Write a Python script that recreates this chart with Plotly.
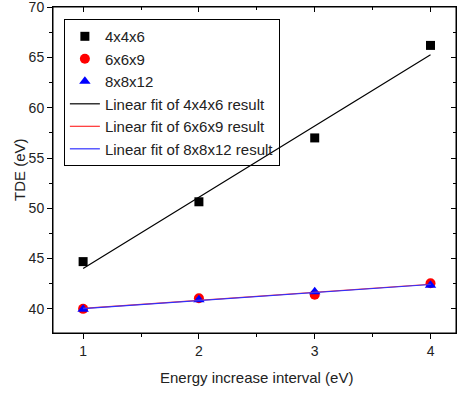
import numpy as np
import plotly.graph_objects as go

x = [1, 2, 3, 4]
tde_446 = [44.7, 50.65, 57.0, 66.2]
tde_669 = [40.0, 41.05, 41.4, 42.55]
tde_8812 = [39.95, 40.9, 41.7, 42.35]

names = ["4x4x6", "6x6x9", "8x8x12"]
colors = ["black", "red", "blue"]
symbols = ["square", "circle", "triangle-up"]
sizes = [9, 10, 10]
series = [tde_446, tde_669, tde_8812]
fit_names = ["Linear fit of 4x4x6 result", "Linear fit of 6x6x9 result", "Linear fit of 8x8x12 result"]
fit_colors = ["black", "#ff3030", "#3030ff"]

fig = go.Figure()
for n, c, s, sz, y in zip(names, colors, symbols, sizes, series):
    fig.add_trace(go.Scatter(x=x, y=y, mode="markers", name=n,
                             marker=dict(color=c, symbol=s, size=sz, line=dict(width=0))))
for n, c, y in zip(fit_names, fit_colors, series):
    k, b = np.polyfit(x, y, 1)
    xf = np.array([x[0], x[-1]])
    fig.add_trace(go.Scatter(x=xf, y=k * xf + b, mode="lines", name=n,
                             line=dict(color=c, width=1.2)))

font = "Liberation Sans, Arial, sans-serif"
axis_common = dict(showline=True, linecolor="black", linewidth=1, showgrid=False,
                   zeroline=False, ticklen=5, tickcolor="black", tickwidth=1, automargin=False)
yr = [37.6, 70.02]
xr = [0.74, 4.22]
fig.update_layout(
    width=457, height=394,
    margin=dict(l=53, r=1, t=7, b=61),
    plot_bgcolor="white", paper_bgcolor="white",
    font=dict(family=font, size=14, color="#222"),
    xaxis=dict(range=xr, tickvals=[1, 2, 3, 4], ticks="outside",
               minor=dict(tickvals=[1.5, 2.5, 3.5], ticklen=3, ticks="outside", tickcolor="black"),
               tickfont=dict(size=14), **axis_common),
    yaxis=dict(range=yr, tickvals=[40, 45, 50, 55, 60, 65, 70], ticks="outside",
               ticklabeloverflow="allow",
               minor=dict(dtick=2.5, tick0=37.5, ticklen=3, ticks="outside", tickcolor="black"),
               tickfont=dict(size=14), **axis_common),
    xaxis2=dict(overlaying="x", anchor="y", range=xr, side="top", tickvals=[1, 2, 3, 4], ticks="inside",
                showticklabels=False,
                minor=dict(tickvals=[1.5, 2.5, 3.5], ticklen=3, ticks="inside", tickcolor="black"),
                **axis_common),
    yaxis2=dict(overlaying="y", anchor="x", range=yr, side="right", tickvals=[40, 45, 50, 55, 60, 65, 70],
                ticks="inside", showticklabels=False,
                minor=dict(dtick=2.5, tick0=37.5, ticklen=3, ticks="inside", tickcolor="black"),
                **axis_common),
    legend=dict(x=0.027, y=0.963, xanchor="left", yanchor="top",
                bordercolor="black", borderwidth=1, bgcolor="rgba(255,255,255,0)",
                font=dict(size=15, color="#222"), tracegroupgap=0, itemwidth=30),
    showlegend=True,
    shapes=[dict(type="rect", xref="paper", yref="paper", x0=0, x1=1, y0=0, y1=1,
                 line=dict(color="black", width=1), layer="above")],
    annotations=[
        dict(text="Energy increase interval (eV)", xref="paper", yref="paper",
             x=0.505, y=0, yshift=-44, xanchor="center", yanchor="middle",
             showarrow=False, font=dict(size=15, color="#222")),
        dict(text="TDE (eV)", xref="paper", yref="paper", x=0, xshift=-34, y=0.5,
             xanchor="center", yanchor="middle", textangle=-90,
             showarrow=False, font=dict(size=15, color="#222")),
    ],
)
# invisible trace to activate the mirrored axes
fig.add_trace(go.Scatter(x=[2], y=[50], xaxis="x2", yaxis="y2", mode="markers",
                         marker=dict(opacity=0), showlegend=False, hoverinfo="skip"))
fig.write_html("out.html", config={"displayModeBar": False},
               post_script="document.body.style.margin='0';document.body.style.overflow='hidden';")
